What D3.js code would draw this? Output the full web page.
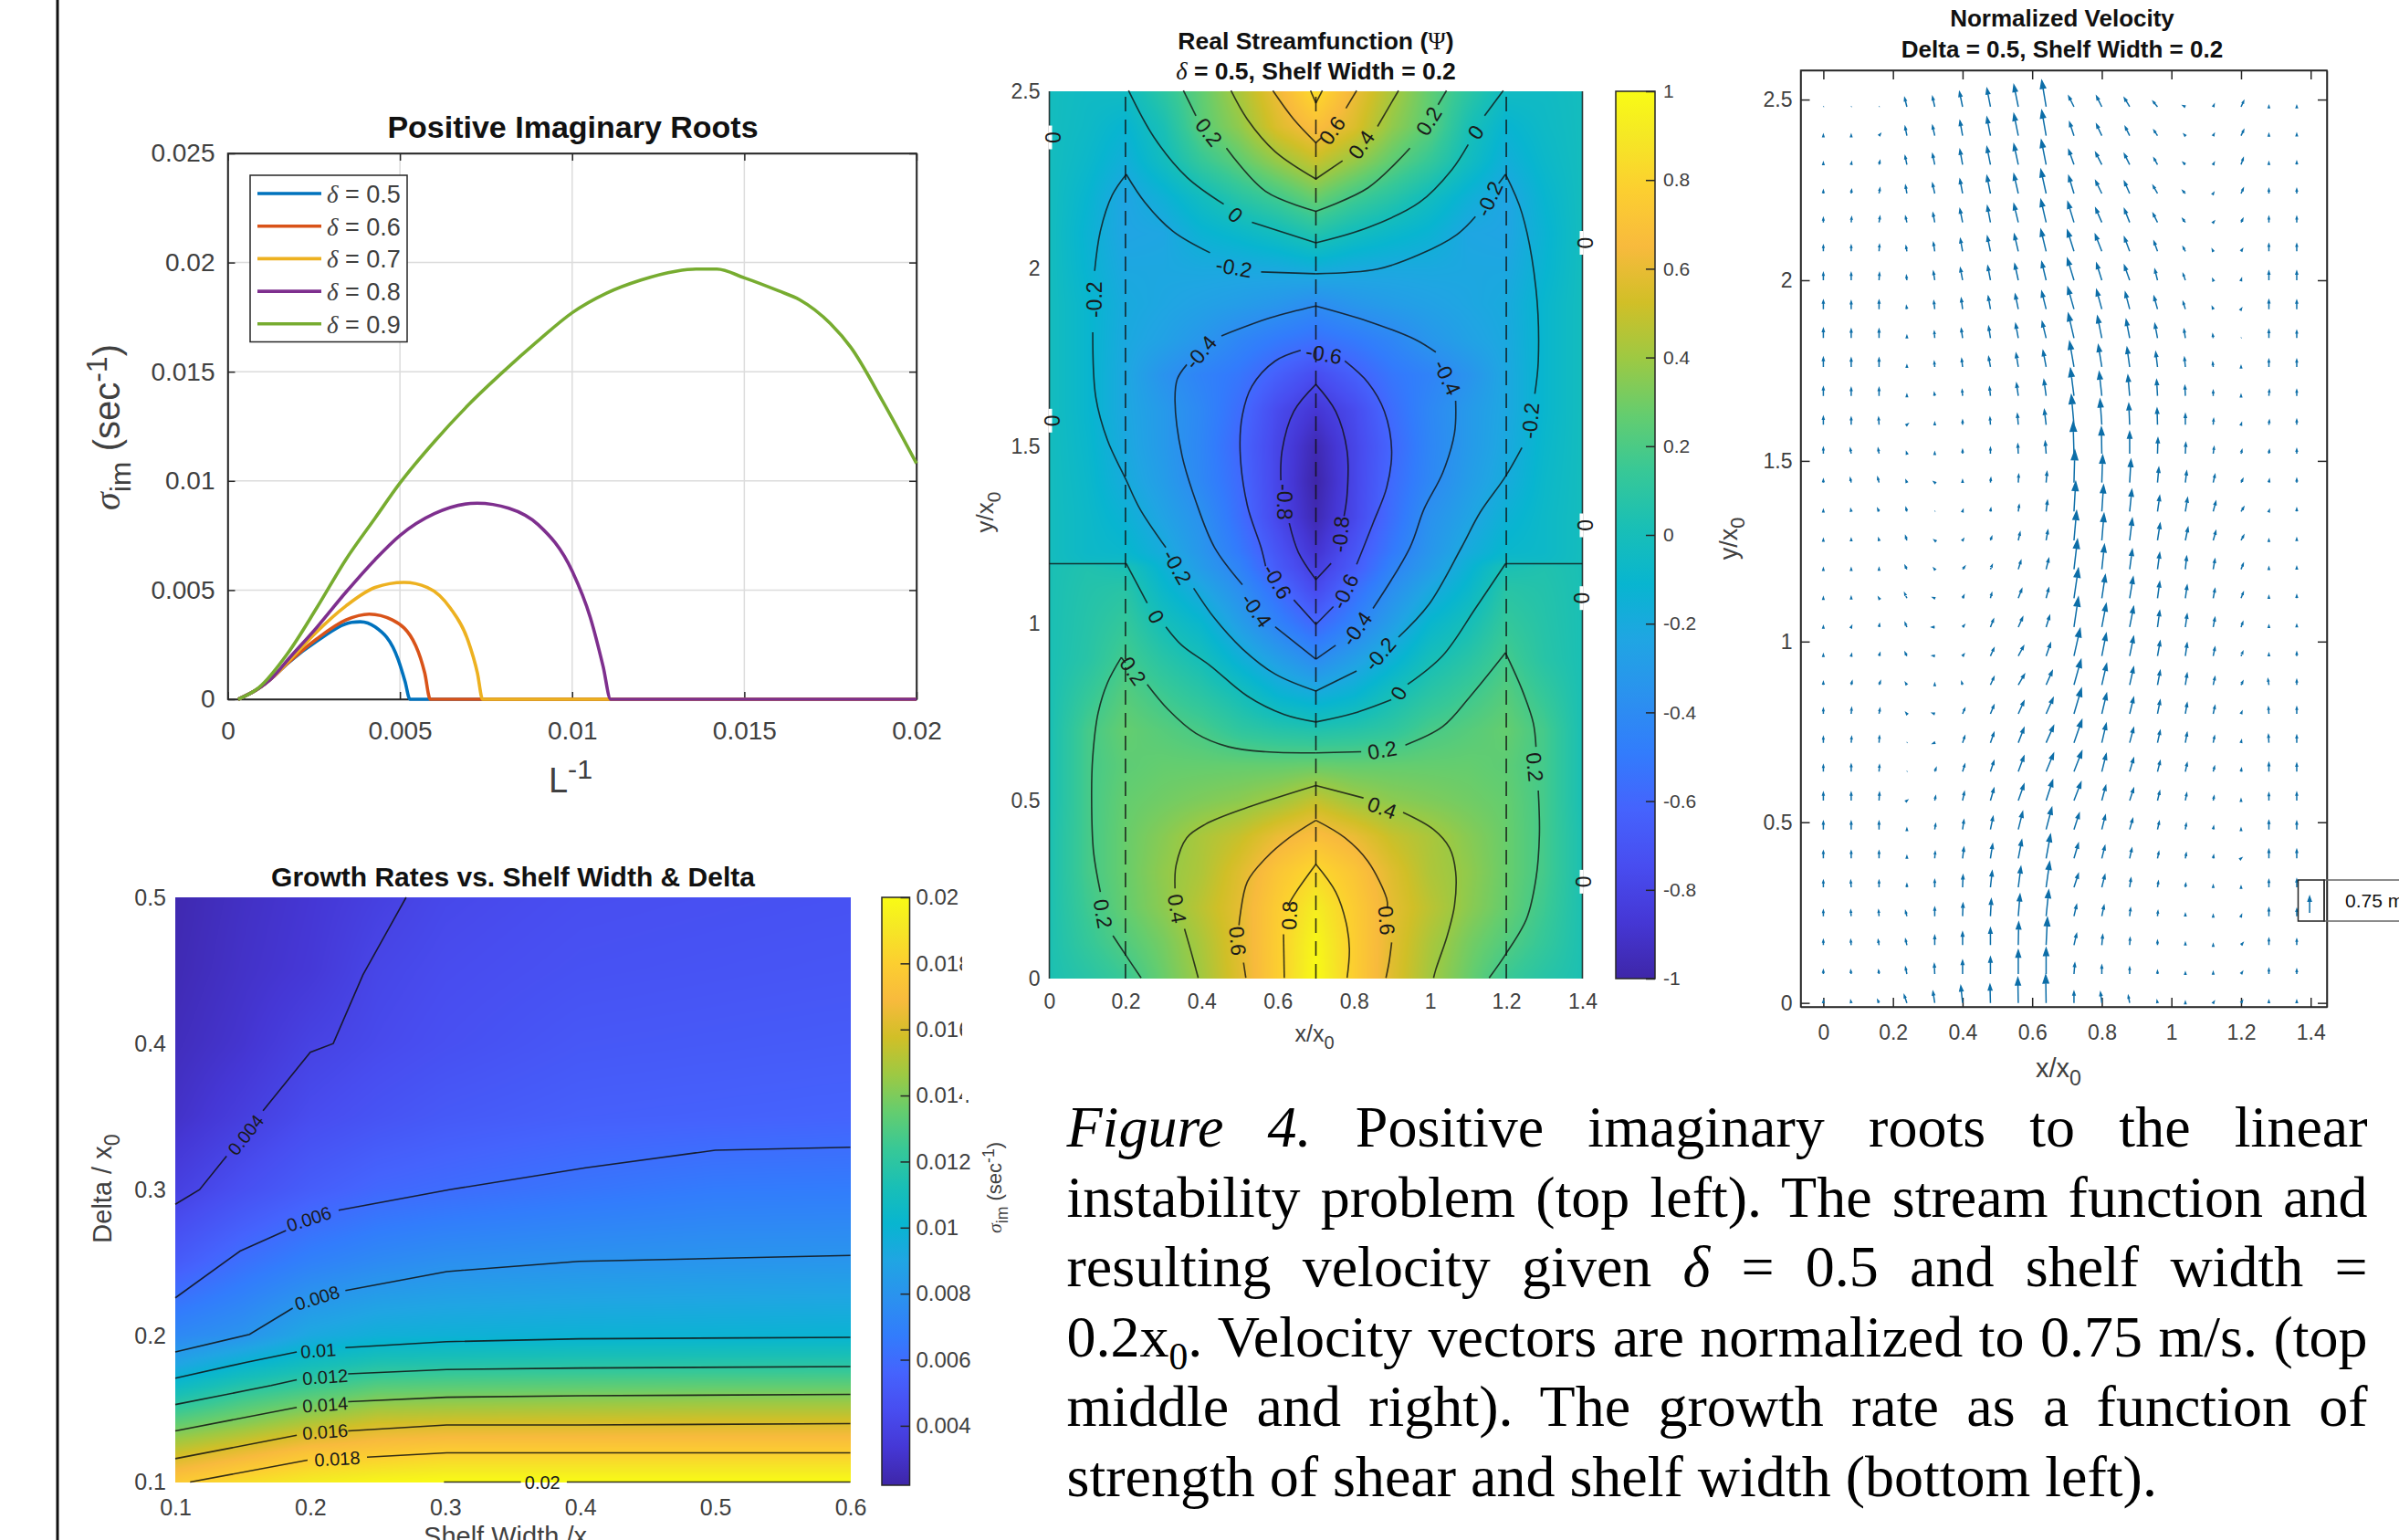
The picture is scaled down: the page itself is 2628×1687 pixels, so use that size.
<!DOCTYPE html>
<html>
<head>
<meta charset="utf-8">
<script src="https://cdn.jsdelivr.net/npm/d3@7"></script>
<style>
html, body { margin: 0; padding: 0; background: #fff; }
svg { display: block; }
text { font-family: "Liberation Sans", Arial, sans-serif; }
</style>
</head>
<body>
<div id="wrapper"></div>
<script>
var width = 2628, height = 1687;

// MATLAB parula, sampled
var parulaIdx = [0,4,8,12,16,20,24,28,32,36,40,44,48,52,56,60,63];
var parulaRgb = [
	[.2422,.1504,.6603],[.2706,.2147,.8364],[.2813,.3006,.9414],[.2699,.3892,.9906],[.1963,.4847,.9892],
	[.1687,.5703,.9359],[.1248,.6459,.8883],[.0297,.7082,.8163],[.0964,.75,.712],[.2161,.7843,.5923],
	[.3909,.8029,.4354],[.6174,.7876,.2612],[.8203,.7498,.1535],[.9728,.7298,.2394],[.9892,.8137,.1885],
	[.9597,.9135,.1423],[.9769,.9839,.0805]];

// top left: positive imaginary roots, [L^-1, sigma]
var rootNames = ["0.5","0.6","0.7","0.8","0.9"];
var rootColors = ["#0072BD","#D95319","#EDB120","#7E2F8E","#77AC30"];
var roots05 = [[.0003,0],[.0009,.0005],[.0013,.001],[.00174,.00165],[.00259,.00267],[.0036,.00352],[.00385,.00355],[.00428,.00331],[.00495,.00181],[.00515,.0008],[.00529,0],[.02,0]];
var roots06 = [[.0003,0],[.0009,.0005],[.0013,.001],[.00174,.00165],[.00259,.00277],[.00343,.00363],[.00411,.0039],[.00478,.00363],[.00546,.00245],[.00572,.0012],[.00588,0],[.02,0]];
var roots07 = [[.0003,0],[.0009,.0005],[.0013,.001],[.00174,.0017],[.00259,.0031],[.00343,.00427],[.00428,.00512],[.00512,.00535],[.0058,.00512],[.00647,.00416],[.00698,.00267],[.00725,.0012],[.0074,0],[.02,0]];
var roots08 = [[.0003,0],[.0009,.0005],[.0013,.001],[.00174,.0018],[.00259,.0033],[.00343,.0049],[.00428,.0064],[.005,.0075],[.006,.0085],[.00724,.00898],[.00816,.00875],[.00901,.008],[.01,.00587],[.01053,.00373],[.0109,.0015],[.01112,0],[.02,0]];
var roots09 = [[.0003,0],[.0009,.00053],[.00174,.0021],[.00259,.0042],[.00343,.0064],[.00428,.0083],[.005,.0099],[.006,.0118],[.007,.0135],[.008,.015],[.009,.0164],[.01,.0177],[.011,.0186],[.012,.0192],[.013,.0196],[.0136,.0197],[.0142,.0197],[.015,.0193],[.016,.0187],[.0166,.0183],[.0175,.0172],[.0181,.0161],[.019,.0137],[.02,.0108]];
var rootSeries = [roots05, roots06, roots07, roots08, roots09];
var rootXTicks = [0,.005,.01,.015,.02];
var rootYTicks = [0,.005,.01,.015,.02,.025];

// bottom left: growth rate (sec^-1 x 1000), rows bottom to top
var growthX = [.1,.15,.2,.25,.3,.4,.5,.6];
var growthY = [.1,.12,.14,.16,.18,.2,.25,.3,.35,.4,.45,.5];
var growthRows = [
	[17.7,18.6,19.3,19.8,20,20,20,20],
	[15.6,16.5,17.4,17.7,18,18,18,18],
	[13.4,14.2,15.1,15.8,15.9,15.95,16,16],
	[11.2,12.3,13,13.7,13.8,13.9,14,14],
	[9,10.1,11,11.6,11.7,11.8,11.85,11.9],
	[7.4,8,9.2,9.7,9.8,9.9,9.95,10],
	[5.2,6.2,7,7.5,7.8,8,8.1,8.15],
	[3.8,4.6,5.3,5.8,6,6.4,6.7,6.75],
	[3,3.7,4.4,4.8,5.1,5.4,5.5,5.6],
	[2.7,3.2,3.9,4.3,4.6,5,5.1,5.2],
	[2.5,3,3.4,4.1,4.4,4.7,4.8,4.9],
	[2.4,2.9,3.3,3.8,4.2,4.5,4.6,4.7]];
var growthContours = [
	[[.1,.29],[.118,.3],[.138,.323]],[[.165,.354],[.2,.394],[.217,.4],[.239,.447],[.271,.5]],
	[[.1,.226],[.148,.258],[.182,.272]],[[.221,.286],[.303,.3],[.404,.315],[.5,.327],[.6,.329]],
	[[.1,.189],[.155,.201],[.187,.219]],[[.226,.231],[.301,.244],[.399,.251],[.5,.253],[.6,.255]],
	[[.1,.171],[.153,.182],[.19,.189]],[[.226,.192],[.301,.196],[.399,.198],[.6,.199]],
	[[.1,.153],[.171,.166],[.19,.17]],[[.228,.174],[.301,.177],[.399,.178],[.6,.179]],
	[[.1,.135],[.19,.151]],[[.228,.155],[.301,.158],[.399,.159],[.6,.16]],
	[[.1,.116],[.19,.132]],[[.228,.135],[.301,.139],[.399,.139],[.6,.14]],
	[[.111,.1],[.198,.115]],[[.242,.117],[.301,.12],[.399,.12],[.6,.12]],
	[[.299,.1],[.356,.1]],[[.39,.1],[.6,.1]]];
var growthLabels = [
	["0.004",.152,.3375,-52],["0.006",.199,.28,-18],["0.008",.205,.226,-17],["0.01",.206,.19,-4],["0.012",.211,.172,-4],
	["0.014",.211,.153,-4],["0.016",.211,.1345,-4],["0.018",.22,.116,-3],["0.02",.372,.1,0]];
var growthXTicks = [.1,.2,.3,.4,.5,.6];
var growthYTicks = [.1,.2,.3,.4,.5];
var growthBarTicks = [.004,.006,.008,.01,.012,.014,.016,.018,.02];

// top middle: real streamfunction, left half of the channel, rows bottom to top (right half mirrors it)
var psiXHalf = [0,.1,.2,.3,.4,.5,.6,.7];
var psiY = [0,.1,.2,.3,.4,.5,.6,.7,.8,.9,1,1.1,1.16,1.18,1.2,1.3,1.4,1.5,1.6,1.7,1.8,1.9,2,2.1,2.2,2.3,2.4,2.5];
var psiRowsHalf = [
	[.03,.08,.15,.28,.41,.57,.77,1],
	[.03,.13,.22,.31,.43,.58,.77,.98],
	[.03,.16,.27,.36,.47,.59,.76,.93],
	[.03,.18,.28,.37,.44,.57,.72,.83],
	[.03,.18,.28,.35,.43,.5,.61,.68],
	[.02,.18,.27,.3,.33,.36,.41,.49],
	[.02,.18,.25,.27,.27,.27,.27,.28],
	[.02,.18,.27,.23,.19,.11,.07,.05],
	[.02,.13,.23,.16,.09,0,-.12,-.18],
	[.02,.08,.18,.08,0,-.15,-.28,-.4],
	[.02,.07,.13,0,-.1,-.28,-.45,-.6],
	[.02,.06,.08,-.09,-.22,-.38,-.57,-.77],
	[.02,.05,.02,-.14,-.3,-.45,-.67,-.84],
	[-.02,-.06,-.06,-.16,-.31,-.47,-.68,-.86],
	[-.02,-.07,-.09,-.19,-.33,-.5,-.7,-.89],
	[-.02,-.07,-.14,-.25,-.36,-.56,-.78,-.97],
	[-.02,-.08,-.19,-.29,-.42,-.58,-.79,-1],
	[-.02,-.09,-.21,-.31,-.43,-.6,-.79,-.97],
	[-.02,-.1,-.22,-.31,-.42,-.57,-.76,-.88],
	[-.02,-.1,-.22,-.35,-.45,-.52,-.64,-.75],
	[-.02,-.1,-.21,-.26,-.33,-.43,-.5,-.55],
	[-.02,-.1,-.2,-.23,-.26,-.29,-.33,-.39],
	[-.02,-.12,-.22,-.22,-.21,-.21,-.2,-.17],
	[-.02,-.13,-.24,-.23,-.13,-.08,-.02,.06],
	[-.02,-.11,-.24,-.15,-.03,.08,.17,.28],
	[-.02,-.08,-.17,-.03,.13,.25,.38,.49],
	[-.02,-.06,-.12,.02,.24,.37,.56,.68],
	[-.02,-.05,-.04,.1,.26,.43,.62,.85]];
var psiContours = [
	// 0.8
	[[.7,.322],[.648,.244],[.626,.205]],[[.615,.125],[.617,.002]],[[.7,.322],[.752,.244],[.779,.159],[.788,.083],[.782,.002]],
	[[.686,2.502],[.7,2.467],[.717,2.502]],
	// 0.6
	[[.7,.446],[.63,.397],[.568,.339],[.52,.273],[.501,.178],[.498,.15]],[[.51,.045],[.516,.002]],
	[[.7,.446],[.776,.397],[.837,.33],[.886,.225],[.888,.2]],[[.899,.102],[.892,.045],[.884,.002]],
	[[.587,2.502],[.642,2.421],[.7,2.355],[.715,2.37]],[[.779,2.452],[.807,2.502]],
	// 0.4
	[[.7,.544],[.52,.482],[.41,.435],[.361,.397],[.333,.32],[.33,.254]],[[.355,.14],[.373,.073],[.391,.002]],
	[[.7,.544],[.825,.509]],[[.929,.468],[1.009,.42],[1.051,.368],[1.067,.301],[1.064,.206],[1.045,.121],[1.015,.026],[1.009,.002]],
	[[.477,2.502],[.52,2.421],[.593,2.33],[.7,2.253],[.77,2.304]],[[.862,2.401],[.917,2.502]],
	// 0.2
	[[.189,.905],[.153,.834],[.128,.748],[.114,.625],[.111,.511],[.116,.358],[.134,.244]],[[.167,.121],[.202,.064],[.241,.002]],
	[[.189,.905],[.2,.89]],[[.257,.829],[.312,.758],[.385,.691],[.471,.653],[.568,.639],[.7,.636],[.819,.639]],
	[[.935,.658],[1.033,.71],[1.106,.796],[1.198,.918]],
	[[1.198,.918],[1.241,.815],[1.271,.72],[1.278,.653]],[[1.284,.53],[1.287,.406],[1.278,.282],[1.253,.168],[1.198,.068],[1.155,.002]],
	[[.352,2.502],[.385,2.431]],[[.465,2.34],[.568,2.218],[.7,2.162],[.837,2.228],[.947,2.34]],[[1.021,2.462],[1.043,2.502]],
	// 0
	[[0,1.169],[.202,1.169],[.257,1.058]],[[.306,.991],[.348,.939],[.422,.882],[.52,.796],[.617,.744],[.7,.723],[.8,.748],[.898,.786]],
	[[.941,.829],[1.033,.91],[1.119,1.043],[1.198,1.169],[1.4,1.169]],
	[[.208,2.502],[.275,2.37],[.361,2.258],[.458,2.182]],[[.532,2.131],[.7,2.073],[.837,2.116],[.972,2.187],[1.057,2.279],[1.1,2.35]],[[1.143,2.431],[1.192,2.502]],
	// -0.2
	[[.7,.81],[.593,.858],[.507,.929],[.434,1.015],[.379,1.1]],
	[[.306,1.2145],[.238,1.323],[.202,1.404],[.153,1.516],[.122,1.638],[.114,1.821]],[[.119,1.994],[.134,2.106],[.165,2.207],[.202,2.266]],
	[[.202,2.266],[.251,2.187],[.324,2.106],[.422,2.045]],[[.556,1.991],[.7,1.986],[.862,1.999],[.972,2.04],[1.07,2.096],[1.119,2.147]],
	[[1.18,2.24],[1.198,2.266],[1.241,2.157],[1.278,1.943],[1.284,1.74],[1.275,1.648]],
	[[1.241,1.496],[1.198,1.415],[1.131,1.313],[1.082,1.214],[.996,1.053],[.917,.962]],[[.807,.867],[.7,.81]],
	// -0.4
	[[.7,.9],[.593,.991]],[[.507,1.11],[.434,1.2145],[.385,1.344],[.348,1.476],[.33,1.628],[.336,1.689],[.361,1.73]],
	[[.452,1.811],[.581,1.862],[.7,1.895],[.837,1.852],[.96,1.801],[1.015,1.765]],
	[[1.067,1.628],[1.064,1.537],[1.033,1.425],[.984,1.323],[.947,1.2145],[.85,1.043]],[[.752,.939],[.7,.9]],
	// -0.6
	[[.7,.998],[.642,1.067]],[[.568,1.162],[.556,1.2145],[.52,1.333],[.501,1.486],[.507,1.588],[.532,1.669],[.593,1.74],[.66,1.77]],
	[[.776,1.74],[.837,1.679],[.88,1.598],[.899,1.486],[.886,1.384],[.85,1.283],[.825,1.2145],[.807,1.167]],[[.746,1.048],[.7,.998]],
	// -0.8
	[[.7,1.674],[.642,1.598],[.611,1.486],[.608,1.404]],[[.63,1.283],[.654,1.201],[.7,1.124]],
	[[.7,1.674],[.752,1.598],[.782,1.486],[.782,1.364],[.774,1.303]],[[.74,1.17],[.7,1.124]],
	// channel walls
	[[0,0],[0,2.5]],[[1.4,0],[1.4,2.5]]];
var psiLabels = [
	["0",.01,2.37,90],["0",.006,1.572,90],["0",1.406,2.073,90],["0",1.406,1.277,90],["0",1.397,1.072,90],["0",1.402,.273,90],
	["0.2",.419,2.385,52],["0.2",.996,2.416,-58],["0.6",.742,2.39,-55],["0.4",.819,2.35,-55],["0",1.119,2.385,-55],["0",.489,2.152,40],
	["-0.2",1.155,2.197,-65],["-0.2",.485,2.004,10],["-0.2",.119,1.913,-90],["-0.4",.397,1.765,-50],["-0.6",.721,1.76,10],
	["-0.4",1.045,1.694,65],["-0.2",1.263,1.572,-85],["-0.8",.617,1.343,90],["-0.8",.764,1.252,-85],["-0.2",.336,1.16,60],
	["-0.6",.599,1.119,60],["-0.4",.544,1.038,55],["0",.281,1.02,60],["-0.6",.776,1.091,-65],["-0.4",.807,.986,-55],["-0.2",.868,.915,-50],
	["0.2",.22,.867,55],["0",.917,.804,-60],["0.2",.874,.644,-10],["0.2",1.275,.596,85],["0.4",.874,.482,20],["0.4",.336,.197,80],
	["0.2",.141,.183,80],["0.8",.63,.178,-88],["0.6",.495,.106,85],["0.6",.886,.164,85]];
var psiWalls = [.2,.7,1.2];
var psiXTicks = [0,.2,.4,.6,.8,1,1.2,1.4];
var psiYTicks = [0,.5,1,1.5,2,2.5];
var psiBarTicks = [-1,-.8,-.6,-.4,-.2,0,.2,.4,.6,.8,1];

// top right: velocity vectors. rows run top (y = 2.48) to bottom (y = 0), columns x = 0 to 1.36
var quiverX = [0,.08,.16,.24,.32,.4,.48,.56,.64,.72,.8,.88,.96,1.04,1.12,1.2,1.28,1.36];
var quiverY = [2.48,2.4,2.32,2.24,2.16,2.08,2,1.92,1.84,1.76,1.68,1.6,1.52,1.44,1.36,1.28,1.2,1.12,1.04,.96,.88,.8,.72,.64,.56,.48,.4,.32,.24,.16,.08,0];
// u and v as read, 1 u = 1/800 x/x0, 1 v = 1/1040 y/x0
var quiverU = [
	[0,0,0,-5,-5,-7,-8,-10,-10,-12,-12,-12,-10,-5,2,6,0,0],
	[0,0,3,-4,-5,-6,-8,-10,-10,-10,-12,-10,-8,-3,2,6,0,0],
	[0,1,2,-4,-5,-6,-8,-10,-11,-12,-14,-12,-8,-5,2,5,0,0],
	[0,1,2,-3,-5,-6,-8,-10,-12,-12,-14,-12,-10,-6,1,5,0,0],
	[0,1,2,-3,-4,-6,-7,-10,-12,-14,-14,-12,-10,-6,2,4,0,0],
	[0,0,1,-2,-3,-5,-7,-9,-12,-15,-15,-12,-8,-5,-2,3,0,0],
	[0,0,1,-1,-3,-5,-6,-8,-10,-15,-12,-12,-6,-5,-1,1,0,0],
	[0,0,0,-1,-2,-3,-5,-7,-10,-14,-12,-10,-8,-5,-2,1,0,0],
	[0,0,0,0,-1,-3,-4,-6,-9,-13,-10,-8,-6,-3,-1,0,0,0],
	[0,0,0,0,-1,-2,-4,-5,-7,-10,-8,-6,-4,-2,-1,0,0,0],
	[0,0,0,0,-1,-1,-2,-4,-5,-8,-6,-4,-2,-1,0,0,1,0],
	[0,0,-1,2,0,0,-1,-2,-4,-6,-4,-2,-1,0,1,1,1,0],
	[0,-2,-2,-1,0,0,0,-1,-2,-2,-1,0,1,1,2,2,1,0],
	[0,-2,-3,-2,-2,0,1,1,2,2,2,3,3,3,4,4,1,0],
	[0,-1,-3,-2,0,1,1,2,3,4,4,5,5,5,6,6,1,0],
	[0,0,-1,-3,-1,2,3,4,4,6,5,6,6,6,6,6,0,0],
	[0,0,0,-4,-2,5,4,6,6,8,6,6,5,3,4,5,0,0],
	[0,0,-1,-5,-4,3,3,8,6,10,8,8,5,4,4,5,0,0],
	[0,1,1,-4,-6,4,7,10,8,10,10,9,5,4,4,4,0,0],
	[0,1,2,-4,-5,3,8,12,10,14,10,9,6,4,4,4,0,0],
	[0,2,3,-3,0,-2,8,14,14,16,11,9,6,4,4,4,-2,0],
	[0,1,2,-2,-5,5,8,13,16,17,11,9,6,4,4,2,-1,0],
	[0,1,1,0,-4,5,8,13,17,18,10,9,6,4,3,1,-1,0],
	[0,0,1,0,3,5,8,13,17,18,10,9,6,4,3,1,0,0],
	[0,0,1,1,2,4,8,13,15,16,9,9,5,3,2,0,0,0],
	[0,0,0,0,2,3,6,10,13,12,8,7,4,2,1,0,0,0],
	[0,0,0,0,1,3,5,8,10,10,7,5,3,2,1,1,0,0],
	[0,-1,0,0,0,1,4,6,8,10,7,3,2,1,0,0,0,0],
	[0,-1,-1,-3,0,1,2,4,6,6,5,2,1,0,0,1,0,0],
	[0,-1,-2,-3,0,0,0,1,3,6,2,1,0,0,0,4,0,0],
	[0,-1,-1,-3,-1,0,0,0,0,2,0,0,0,0,0,3,0,0],
	[0,-1,-3,-6,-4,-4,-1,-1,-1,0,-3,-3,-1,0,2,3,0,0]];
var quiverV = [
	[1,1,1,25,28,42,52,62,75,30,30,25,15,3,6,16,2,2],
	[2,2,5,25,28,42,52,62,72,38,32,25,15,4,5,16,4,5],
	[5,6,10,24,30,42,50,58,70,42,34,30,18,6,5,18,6,8],
	[8,10,14,22,28,40,50,55,68,50,36,34,22,8,2,14,12,12],
	[12,14,16,16,26,38,46,52,65,58,40,38,25,10,3,10,15,15],
	[16,16,18,14,24,35,42,48,62,60,48,40,28,12,5,6,20,20],
	[20,20,20,12,24,34,40,46,52,62,48,42,30,18,3,4,25,25],
	[24,22,24,8,22,30,36,42,50,62,55,48,36,20,6,2,25,24],
	[26,24,24,6,18,26,32,40,46,70,62,52,40,24,10,1,22,20],
	[26,24,24,4,14,22,28,38,46,72,62,55,42,26,12,2,20,20],
	[24,22,22,3,8,16,24,35,45,78,68,58,45,28,14,2,16,16],
	[22,20,20,2,5,12,20,30,42,85,72,60,46,30,16,4,12,14],
	[16,14,14,4,3,10,16,26,34,90,75,62,44,30,18,10,10,12],
	[8,12,14,6,2,6,12,22,30,92,78,65,42,32,22,10,8,10],
	[4,6,8,10,1,4,8,18,30,85,75,62,44,38,28,12,4,8],
	[3,4,5,12,1,4,10,22,28,84,76,62,48,36,26,14,2,5],
	[2,2,3,10,3,8,12,24,30,85,70,56,46,36,28,16,5,6],
	[2,3,2,14,2,8,14,26,28,85,66,60,46,36,26,16,5,8],
	[2,3,8,12,0,6,22,28,32,85,66,58,46,36,26,14,4,6],
	[4,5,8,10,1,5,22,28,36,78,64,55,42,36,24,12,6,10],
	[8,10,10,6,3,8,22,30,40,72,60,50,40,32,22,10,16,14],
	[14,16,14,3,2,15,24,36,45,72,58,46,38,30,22,6,18,18],
	[16,16,18,1,-2,18,28,42,48,65,54,42,34,28,18,6,22,20],
	[18,20,18,1,10,20,30,44,52,58,50,38,30,24,14,8,24,22],
	[22,22,22,1,12,24,34,46,58,52,42,34,26,20,12,3,20,22],
	[22,22,22,2,15,26,36,50,62,46,40,30,22,16,8,2,24,22],
	[20,20,20,6,18,30,40,52,68,42,35,28,18,14,8,1,24,24],
	[18,18,18,8,20,34,46,58,72,38,35,25,16,10,5,2,20,22],
	[16,16,16,14,24,36,48,62,74,32,30,22,14,6,3,3,22,20],
	[14,14,14,16,26,36,48,65,78,32,28,20,12,6,2,6,18,16],
	[10,10,10,18,28,38,48,68,74,30,24,18,8,4,5,6,14,12],
	[6,6,8,22,32,48,52,72,80,32,30,20,6,3,4,6,6,6]];
var quiverXTicks = [0,.2,.4,.6,.8,1,1.2,1.4];
var quiverYTicks = [0,.5,1,1.5,2,2.5];
var keyArrow = [1.397,.249,0,47];

// caption, each run is [text, style]
var captionLines = [
	[["Figure 4.","i"],[" Positive imaginary roots to the linear",""]],
	[["instability problem (top left). The stream function and",""]],
	[["resulting velocity given ",""],["δ","i"],[" = 0.5 and shelf width =",""]],
	[["0.2x",""],["0","sub"],[". Velocity vectors are normalized to 0.75 m/s. (top",""]],
	[["middle and right). The growth rate as a function of",""]],
	[["strength of shear and shelf width (bottom left).",""]]];

var svg = d3.select("#wrapper").append("svg")
	.attr("width", width)
	.attr("height", height);
svg.append("rect").attr("width", width).attr("height", height).attr("fill", "#fff");

var parulaT = parulaIdx.map(function(i){ return i / 63; });
var parulaCss = parulaRgb.map(function(c){ return d3.rgb(c[0]*255, c[1]*255, c[2]*255).formatRgb(); });
var parula = d3.scaleLinear().domain(parulaT).range(parulaCss).interpolate(d3.interpolateRgb).clamp(true);

var grad = svg.append("defs").append("linearGradient").attr("id", "parulaBar")
	.attr("x1", 0).attr("x2", 0).attr("y1", 1).attr("y2", 0);
parulaT.forEach(function(t, i){
	grad.append("stop").attr("offset", t).attr("stop-color", parulaCss[i]);
});

var ink = "#404040";
var line = d3.line();

// page rule on the left
svg.append("line").attr("x1", 63).attr("x2", 63).attr("y1", 0).attr("y2", height)
	.attr("stroke", "#111").attr("stroke-width", 3);

function styleAxis(sel, size){
	sel.attr("font-size", size).attr("font-family", "Liberation Sans").style("color", ink);
	sel.selectAll("line").attr("stroke", "#262626").attr("stroke-width", 1.5);
	sel.selectAll("path").attr("stroke", "#262626").attr("stroke-width", 1.5);
}

function addAxis(axis, tx, ty, size){
	return svg.append("g").attr("transform", "translate(" + tx + "," + ty + ")").call(axis).call(styleAxis, size);
}

function title(text, cx, y, size){
	return svg.append("text").attr("x", cx).attr("y", y).attr("text-anchor", "middle")
		.attr("font-size", size).attr("font-weight", "bold").attr("fill", "#111").text(text);
}

// x/x0 style labels with a lowered 0
function subLabel(text, sub, x, y, size, rot){
	var t = svg.append("text").attr("text-anchor", "middle").attr("font-size", size).attr("fill", ink)
		.attr("transform", "translate(" + x + "," + y + ")" + (rot ? " rotate(" + rot + ")" : ""));
	t.append("tspan").text(text);
	if (sub) t.append("tspan").attr("dy", size * .3).attr("font-size", size * .8).text(sub);
	return t;
}

// sigma_im (sec^-1)
function sigmaLabel(x, y, size){
	var t = svg.append("text").attr("text-anchor", "middle").attr("font-size", size).attr("fill", ink)
		.attr("transform", "translate(" + x + "," + y + ") rotate(-90)");
	t.append("tspan").attr("font-family", "Liberation Serif").attr("font-style", "italic").text("σ");
	t.append("tspan").attr("dy", size * .3).attr("font-size", size * .8).text("im");
	t.append("tspan").attr("dy", -size * .3).text("  (sec");
	t.append("tspan").attr("dy", -size * .35).attr("font-size", size * .8).text("-1");
	t.append("tspan").attr("dy", size * .35).text(")");
}

// paints a gridded field (linear between grid values) into an image inside the plot
function fieldImage(xs, ys, rows, x, y, colorOf){
	var x0 = x.range()[0], x1 = x.range()[1], y0 = y.range()[1], y1 = y.range()[0];
	var w = Math.round(x1 - x0), h = Math.round(y1 - y0);
	var canvas = document.createElement("canvas");
	canvas.width = w; canvas.height = h;
	var ctx = canvas.getContext("2d");
	var img = ctx.createImageData(w, h);
	function locate(arr, v){
		var i = Math.min(Math.max(d3.bisectRight(arr, v) - 1, 0), arr.length - 2);
		return [i, Math.max(0, Math.min(1, (v - arr[i]) / (arr[i+1] - arr[i])))];
	}
	for (var py = 0; py < h; py++){
		var ly = locate(ys, y.invert(y0 + py + .5));
		for (var px = 0; px < w; px++){
			var lx = locate(xs, x.invert(x0 + px + .5));
			var a = rows[ly[0]], b = rows[ly[0] + 1];
			var v = (a[lx[0]] * (1 - lx[1]) + a[lx[0]+1] * lx[1]) * (1 - ly[1]) + (b[lx[0]] * (1 - lx[1]) + b[lx[0]+1] * lx[1]) * ly[1];
			var c = d3.rgb(colorOf(v));
			var o = (py * w + px) * 4;
			img.data[o] = c.r; img.data[o+1] = c.g; img.data[o+2] = c.b; img.data[o+3] = 255;
		}
	}
	ctx.putImageData(img, 0, 0);
	svg.append("image").attr("x", x0).attr("y", y0).attr("width", w).attr("height", h)
		.attr("href", canvas.toDataURL("image/png"));
}

function drawContours(segments, x, y, opacity, curve){
	line.x(function(d){ return x(d[0]); }).y(function(d){ return y(d[1]); }).curve(curve);
	svg.append("g").selectAll("path").data(segments).enter().append("path")
		.attr("d", line).attr("fill", "none")
		.attr("stroke", "#111").attr("stroke-width", 1.6).attr("stroke-opacity", opacity);
}

// psi contours are pointed on the shelf axis and at the shelf corners, the rest is smooth
function splitAtKinks(segments){
	var out = [];
	segments.forEach(function(seg){
		var cur = [seg[0]];
		seg.slice(1).forEach(function(p, i){
			cur.push(p);
			if (i < seg.length - 2 && (p[0] === .7 || p[1] === 1.169 || p[1] === 2.266)) {
				out.push(cur);
				cur = [p];
			}
		});
		out.push(cur);
	});
	return out;
}

function drawContourLabels(labels, x, y, size){
	svg.append("g").selectAll("text").data(labels).enter().append("text")
		.attr("transform", function(d){ return "translate(" + x(d[1]) + "," + y(d[2]) + ") rotate(" + d[3] + ")"; })
		.attr("text-anchor", "middle").attr("dy", ".36em")
		.attr("font-size", size).attr("fill", "#1a1a1a")
		.text(function(d){ return d[0]; });
}

function colorBar(x0, x1, scale, ticks, size, pad){
	var yTop = scale.range()[1], yBot = scale.range()[0];
	svg.append("rect").attr("x", x0).attr("y", yTop).attr("width", x1 - x0).attr("height", yBot - yTop)
		.attr("fill", "url(#parulaBar)").attr("stroke", "#262626").attr("stroke-width", 1.5);
	addAxis(d3.axisRight(scale).tickValues(ticks).tickFormat(String).tickSizeInner(-10).tickSizeOuter(0).tickPadding(pad), x1, 0, size)
		.select(".domain").remove();
}

function labelL(x, y, size){
	var t = svg.append("text").attr("x", x).attr("y", y).attr("text-anchor", "middle").attr("font-size", size).attr("fill", ink);
	t.append("tspan").text("L");
	t.append("tspan").attr("dy", -size * .4).attr("font-size", size * .8).text("-1");
}

// ---- top left ----
(function(){
	var x = d3.scaleLinear().domain([0, .02]).range([249.5, 1004]);
	var y = d3.scaleLinear().domain([0, .025]).range([766, 168]);
	svg.append("g").selectAll("line").data(rootXTicks.slice(1, -1)).enter().append("line")
		.attr("x1", x).attr("x2", x).attr("y1", y(0)).attr("y2", y(.025)).attr("stroke", "#dcdcdc").attr("stroke-width", 1.5);
	svg.append("g").selectAll("line").data(rootYTicks.slice(1, -1)).enter().append("line")
		.attr("y1", y).attr("y2", y).attr("x1", x(0)).attr("x2", x(.02)).attr("stroke", "#dcdcdc").attr("stroke-width", 1.5);
	svg.append("rect").attr("x", x(0)).attr("y", y(.025)).attr("width", x(.02) - x(0)).attr("height", y(0) - y(.025))
		.attr("fill", "none").attr("stroke", "#262626").attr("stroke-width", 1.5);
	addAxis(d3.axisBottom(x).tickValues(rootXTicks).tickFormat(String).tickSizeInner(-8).tickSizeOuter(0).tickPadding(24), 0, y(0), 28);
	addAxis(d3.axisTop(x).tickValues(rootXTicks).tickFormat("").tickSizeInner(-8).tickSizeOuter(0), 0, y(.025), 28);
	addAxis(d3.axisLeft(y).tickValues(rootYTicks).tickFormat(String).tickSizeInner(-8).tickSizeOuter(0).tickPadding(14), x(0), 0, 28);
	addAxis(d3.axisRight(y).tickValues(rootYTicks).tickFormat("").tickSizeInner(-8).tickSizeOuter(0), x(.02), 0, 28);

	line.x(function(d){ return x(d[0]); }).y(function(d){ return y(d[1]); }).curve(d3.curveMonotoneX);
	svg.append("g").selectAll("path").data(rootSeries).enter().append("path")
		.attr("d", line).attr("fill", "none").attr("stroke-width", 3.6)
		.attr("stroke", function(d, i){ return rootColors[i]; });

	title("Positive Imaginary Roots", 627.5, 151, 34);
	labelL(625, 868, 38);
	sigmaLabel(131, 468, 40);

	// legend
	var lg = svg.append("g");
	lg.append("rect").attr("x", 274).attr("y", 192).attr("width", 172).attr("height", 182.5)
		.attr("fill", "#fff").attr("stroke", "#262626").attr("stroke-width", 1.5);
	rootNames.forEach(function(n, i){
		var ly = 212 + i * 35.7;
		lg.append("line").attr("x1", 282).attr("x2", 352).attr("y1", ly).attr("y2", ly)
			.attr("stroke", rootColors[i]).attr("stroke-width", 3.6);
		var t = lg.append("text").attr("x", 358).attr("y", ly + 10).attr("font-size", 27).attr("fill", ink);
		t.append("tspan").attr("font-family", "Liberation Serif").attr("font-style", "italic").text("δ");
		t.append("tspan").text(" = " + n);
	});
})();

// ---- bottom left ----
(function(){
	var x = d3.scaleLinear().domain([.1, .6]).range([192, 931.5]);
	var y = d3.scaleLinear().domain([.1, .5]).range([1623.5, 983]);
	var c = d3.scaleLinear().domain([.0022, .02]).range([0, 1]);
	fieldImage(growthX, growthY, growthRows, x, y, function(v){ return parula(c(v / 1000)); });
	drawContours(growthContours, x, y, .85, d3.curveLinear);
	drawContourLabels(growthLabels, x, y, 20);
	addAxis(d3.axisBottom(x).tickValues(growthXTicks).tickFormat(String).tickSize(0).tickPadding(19), 0, y(.1), 25).select(".domain").remove();
	addAxis(d3.axisLeft(y).tickValues(growthYTicks).tickFormat(String).tickSize(0).tickPadding(10), x(.1), 0, 25).select(".domain").remove();
	title("Growth Rates vs. Shelf Width & Delta", 562, 971, 30);
	subLabel("Delta / x", "0", 122, 1302, 29, -90);
	// the page ends under this label, its subscript is off the sheet
	subLabel("Shelf Width /x", "", 553.5, 1693, 29);

	var by = d3.scaleLinear().domain([.0022, .02]).range([1627, 983]);
	colorBar(966, 996.5, by, growthBarTicks, 24, 7);
	// the source crop cuts these colorbar labels
	svg.append("rect").attr("x", 1054).attr("y", 1040).attr("width", 30).attr("height", 165).attr("fill", "#fff");
	sigmaLabel(1097, 1301, 22);
})();

// ---- top middle ----
(function(){
	var psiX = psiXHalf.concat(psiXHalf.slice(0, -1).reverse().map(function(v){ return +(1.4 - v).toFixed(1); }));
	var psiRows = psiRowsHalf.map(function(r){ return r.concat(r.slice(0, -1).reverse()); });
	var x = d3.scaleLinear().domain([0, 1.4]).range([1149.5, 1733.5]);
	var y = d3.scaleLinear().domain([0, 2.5]).range([1072, 100]);
	var c = d3.scaleLinear().domain([-1, 1]).range([0, 1]);
	fieldImage(psiX, psiY, psiRows, x, y, function(v){ return parula(c(v)); });
	drawContours(splitAtKinks(psiContours), x, y, .8, d3.curveCatmullRom.alpha(.5));
	svg.append("g").selectAll("line").data(psiWalls).enter().append("line")
		.attr("x1", x).attr("x2", x).attr("y1", y(0)).attr("y2", y(2.5))
		.attr("stroke", "#111").attr("stroke-width", 1.6).attr("stroke-dasharray", "16,9").attr("stroke-opacity", .85);
	// wall labels sit in small white notches on the plot edge
	svg.append("g").selectAll("rect").data(psiLabels.filter(function(d){ return d[0] === "0" && d[3] === 90; })).enter().append("rect")
		.attr("x", function(d){ return d[1] < .7 ? x(0) - 1 : x(1.4) - 3; })
		.attr("y", function(d){ return y(d[2]) - 13; })
		.attr("width", 4).attr("height", 26).attr("fill", "#fff");
	drawContourLabels(psiLabels, x, y, 23);
	addAxis(d3.axisBottom(x).tickValues(psiXTicks).tickFormat(String).tickSize(0).tickPadding(17), 0, y(0), 23).select(".domain").remove();
	addAxis(d3.axisLeft(y).tickValues(psiYTicks).tickFormat(String).tickSize(0).tickPadding(10), x(0), 0, 23).select(".domain").remove();

	var t = svg.append("text").attr("x", 1441.5).attr("y", 53.5).attr("text-anchor", "middle")
		.attr("font-size", 26.5).attr("font-weight", "bold").attr("fill", "#111");
	t.append("tspan").text("Real Streamfunction (");
	t.append("tspan").attr("font-family", "Liberation Serif").attr("font-weight", "normal").text("Ψ");
	t.append("tspan").text(")");
	var t2 = svg.append("text").attr("x", 1441.5).attr("y", 87).attr("text-anchor", "middle")
		.attr("font-size", 26.5).attr("font-weight", "bold").attr("fill", "#111");
	t2.append("tspan").attr("font-family", "Liberation Serif").attr("font-style", "italic").attr("font-weight", "normal").text("δ");
	t2.append("tspan").text(" = 0.5, Shelf Width = 0.2");

	subLabel("x/x", "0", 1440, 1141, 25);
	subLabel("y/x", "0", 1088, 561, 26, -90);

	var by = d3.scaleLinear().domain([-1, 1]).range([1072, 100]);
	colorBar(1770, 1813, by, psiBarTicks, 21, 9);
})();

// ---- top right ----
(function(){
	var x = d3.scaleLinear().domain([-.0653, 1.4466]).range([1972.5, 2549]);
	var y = d3.scaleLinear().domain([-.011, 2.581]).range([1103, 77]);
	var uScale = 1 / 800, vScale = 1 / 1040;

	svg.append("rect").attr("x", x.range()[0]).attr("y", y.range()[1]).attr("width", x.range()[1] - x.range()[0]).attr("height", y.range()[0] - y.range()[1])
		.attr("fill", "none").attr("stroke", "#333").attr("stroke-width", 1.5);
	addAxis(d3.axisBottom(x).tickValues(quiverXTicks).tickFormat(String).tickSizeInner(-10).tickSizeOuter(0).tickPadding(20), 0, y.range()[0], 23);
	addAxis(d3.axisTop(x).tickValues(quiverXTicks).tickFormat("").tickSizeInner(-10).tickSizeOuter(0), 0, y.range()[1], 23);
	addAxis(d3.axisLeft(y).tickValues(quiverYTicks).tickFormat(String).tickSizeInner(-10).tickSizeOuter(0).tickPadding(9), x.range()[0], 0, 23);
	addAxis(d3.axisRight(y).tickValues(quiverYTicks).tickFormat("").tickSizeInner(-10).tickSizeOuter(0), x.range()[1], 0, 23);

	function arrowPath(x0, y0, u, v){
		var tx = x(x0), ty = y(y0), hx = x(x0 + u * uScale), hy = y(y0 + v * vScale);
		var len = Math.hypot(hx - tx, hy - ty);
		if (len < .5) return "M" + tx + "," + ty + "l.5,-.5";
		var ang = Math.atan2(hy - ty, hx - tx), barb = Math.max(len * .3, 2);
		return "M" + tx + "," + ty + "L" + hx + "," + hy +
			"M" + (hx - barb * Math.cos(ang - .33)) + "," + (hy - barb * Math.sin(ang - .33)) + "L" + hx + "," + hy +
			"L" + (hx - barb * Math.cos(ang + .33)) + "," + (hy - barb * Math.sin(ang + .33)) + "Z";
	}

	var arrows = [];
	quiverY.forEach(function(yv, r){
		quiverX.forEach(function(xv, c){
			arrows.push([xv, yv, quiverU[r][c], quiverV[r][c]]);
		});
	});
	svg.append("g").selectAll("path").data(arrows.concat([keyArrow])).enter().append("path")
		.attr("d", function(d){ return arrowPath(d[0], d[1], d[2], d[3]); })
		.attr("fill", "#0d6ea8").attr("stroke", "#0d6ea8").attr("stroke-width", 1.5);

	title("Normalized Velocity", 2259, 28.5, 26);
	title("Delta = 0.5, Shelf Width = 0.2", 2259, 63, 26);
	subLabel("x/x", "0", 2255, 1180, 29);
	subLabel("y/x", "0", 1903, 590, 27, -90);

	// 0.75 m/s key
	svg.append("rect").attr("x", 2546).attr("y", 964).attr("width", 100).attr("height", 45)
		.attr("fill", "none").attr("stroke", "#666").attr("stroke-width", 1.5);
	svg.append("rect").attr("x", 2517.5).attr("y", 964).attr("width", 28.5).attr("height", 45)
		.attr("fill", "none").attr("stroke", "#222").attr("stroke-width", 1.5);
	svg.append("text").attr("x", 2569).attr("y", 994).attr("font-family", "Open Sans").attr("font-size", 21).attr("fill", "#111").text("0.75 m/s");
})();

// ---- caption ----
(function(){
	var left = 1168.5, right = 2593.5, lineGap = 76.6, first = 1256, size = 64;
	captionLines.forEach(function(runs, i){
		var t = svg.append("text").attr("x", left).attr("y", first + i * lineGap)
			.attr("font-size", size).attr("fill", "#000")
			.style("font-family", "Liberation Serif").attr("xml:space", "preserve");
		var after = false;
		runs.forEach(function(r){
			var s = t.append("tspan").text(r[0]);
			if (r[1] === "i") s.attr("font-style", "italic");
			if (r[1] === "sub") { s.attr("font-size", size * .65).attr("dy", size * .22); after = true; }
			else if (after) { s.attr("dy", -size * .22); after = false; }
		});
		if (i < captionLines.length - 1) {
			var w = t.node().getComputedTextLength();
			var gaps = runs.map(function(r){ return r[0]; }).join("").split(" ").length - 1;
			t.style("word-spacing", ((right - left - w) / gaps) + "px");
		}
	});
})();
</script>
</body>
</html>
